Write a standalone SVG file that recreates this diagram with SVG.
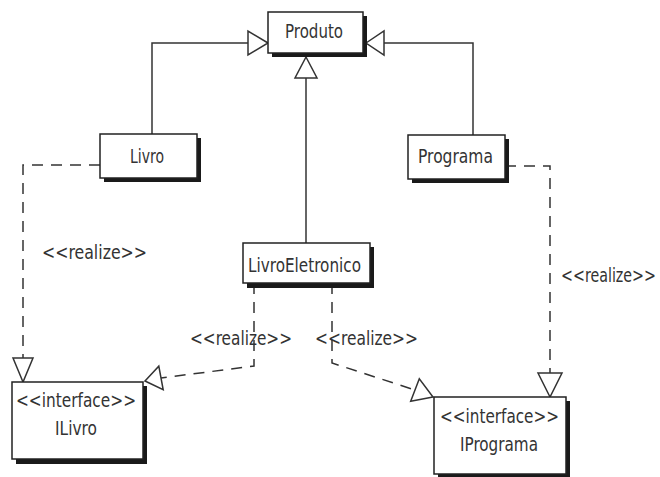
<svg xmlns="http://www.w3.org/2000/svg" width="660" height="477" viewBox="0 0 660 477">
<style>
.box{fill:#fff;stroke:#222;stroke-width:1.5}
.sh{fill:#1a1a1a}
.t{font-family:"DejaVu Sans","Liberation Sans",sans-serif;font-size:19px;fill:#333}
.ln{fill:none;stroke:#333;stroke-width:1.5}
.dash{fill:none;stroke:#333;stroke-width:1.5;stroke-dasharray:11,8}
.tri{fill:#fff;stroke:#333;stroke-width:1.5;stroke-linejoin:miter}
</style>
<rect width="660" height="477" fill="#fff"/>
<g id="connectors">
<polyline class="ln" points="152,134 152,43 248,43"/>
<polyline class="ln" points="473,135 473,43 384,43"/>
<line class="ln" x1="306" y1="243" x2="306" y2="78"/>
<polyline class="dash" points="100,165 23,165 23,358"/>
<polyline class="dash" points="505,166 550,166 550,373"/>
<polyline class="dash" points="254,283 254,366 161,378"/>
<polyline class="dash" points="332,283 332,363 415,390"/>
<polygon class="tri" points="268,43 248,31 248,55"/>
<polygon class="tri" points="366,43 384,31 384,55"/>
<polygon class="tri" points="306,57 295,78 317,78"/>
<polygon class="tri" points="23,382 13,358 33,358"/>
<polygon class="tri" points="550,397 538,373 562,373"/>
<polygon class="tri" points="145,381 163.2,389.8 158.8,366.2"/>
<polygon class="tri" points="433,397 410.7,401.2 419.3,378.8"/>
<text class="t" x="42" y="259" textLength="105" lengthAdjust="spacingAndGlyphs">&lt;&lt;realize&gt;&gt;</text>
<text class="t" x="656" y="282" text-anchor="end" textLength="95" lengthAdjust="spacingAndGlyphs">&lt;&lt;realize&gt;&gt;</text>
<text class="t" x="190" y="345" textLength="102" lengthAdjust="spacingAndGlyphs">&lt;&lt;realize&gt;&gt;</text>
<text class="t" x="315" y="345" textLength="103" lengthAdjust="spacingAndGlyphs">&lt;&lt;realize&gt;&gt;</text>
</g>
<g id="Produto">
<rect class="sh" x="272" y="16" width="95" height="41"/>
<rect class="box" x="268" y="12" width="95" height="41"/>
<text class="t" x="285" y="38" textLength="58" lengthAdjust="spacingAndGlyphs">Produto</text>
</g>
<g id="Livro">
<rect class="sh" x="104" y="138" width="97" height="44"/>
<rect class="box" x="100" y="134" width="97" height="44"/>
<text class="t" x="130" y="163" textLength="34" lengthAdjust="spacingAndGlyphs">Livro</text>
</g>
<g id="Programa">
<rect class="sh" x="412" y="139" width="97" height="44"/>
<rect class="box" x="408" y="135" width="97" height="44"/>
<text class="t" x="418" y="163" textLength="75" lengthAdjust="spacingAndGlyphs">Programa</text>
</g>
<g id="LivroEletronico">
<rect class="sh" x="247" y="247" width="127" height="41"/>
<rect class="box" x="243" y="243" width="127" height="40"/>
<text class="t" x="248" y="272" textLength="113" lengthAdjust="spacingAndGlyphs">LivroEletronico</text>
</g>
<g id="ILivro">
<rect class="sh" x="16" y="386" width="131" height="78"/>
<rect class="box" x="12" y="382" width="131" height="77"/>
<text class="t" x="16" y="407" textLength="120" lengthAdjust="spacingAndGlyphs">&lt;&lt;interface&gt;&gt;</text>
<text class="t" x="55" y="435" textLength="42" lengthAdjust="spacingAndGlyphs">ILivro</text>
</g>
<g id="IPrograma">
<rect class="sh" x="438" y="401" width="132" height="78"/>
<rect class="box" x="434" y="397" width="132" height="77"/>
<text class="t" x="440" y="423" textLength="119" lengthAdjust="spacingAndGlyphs">&lt;&lt;interface&gt;&gt;</text>
<text class="t" x="460" y="451" textLength="78" lengthAdjust="spacingAndGlyphs">IPrograma</text>
</g>
</svg>
